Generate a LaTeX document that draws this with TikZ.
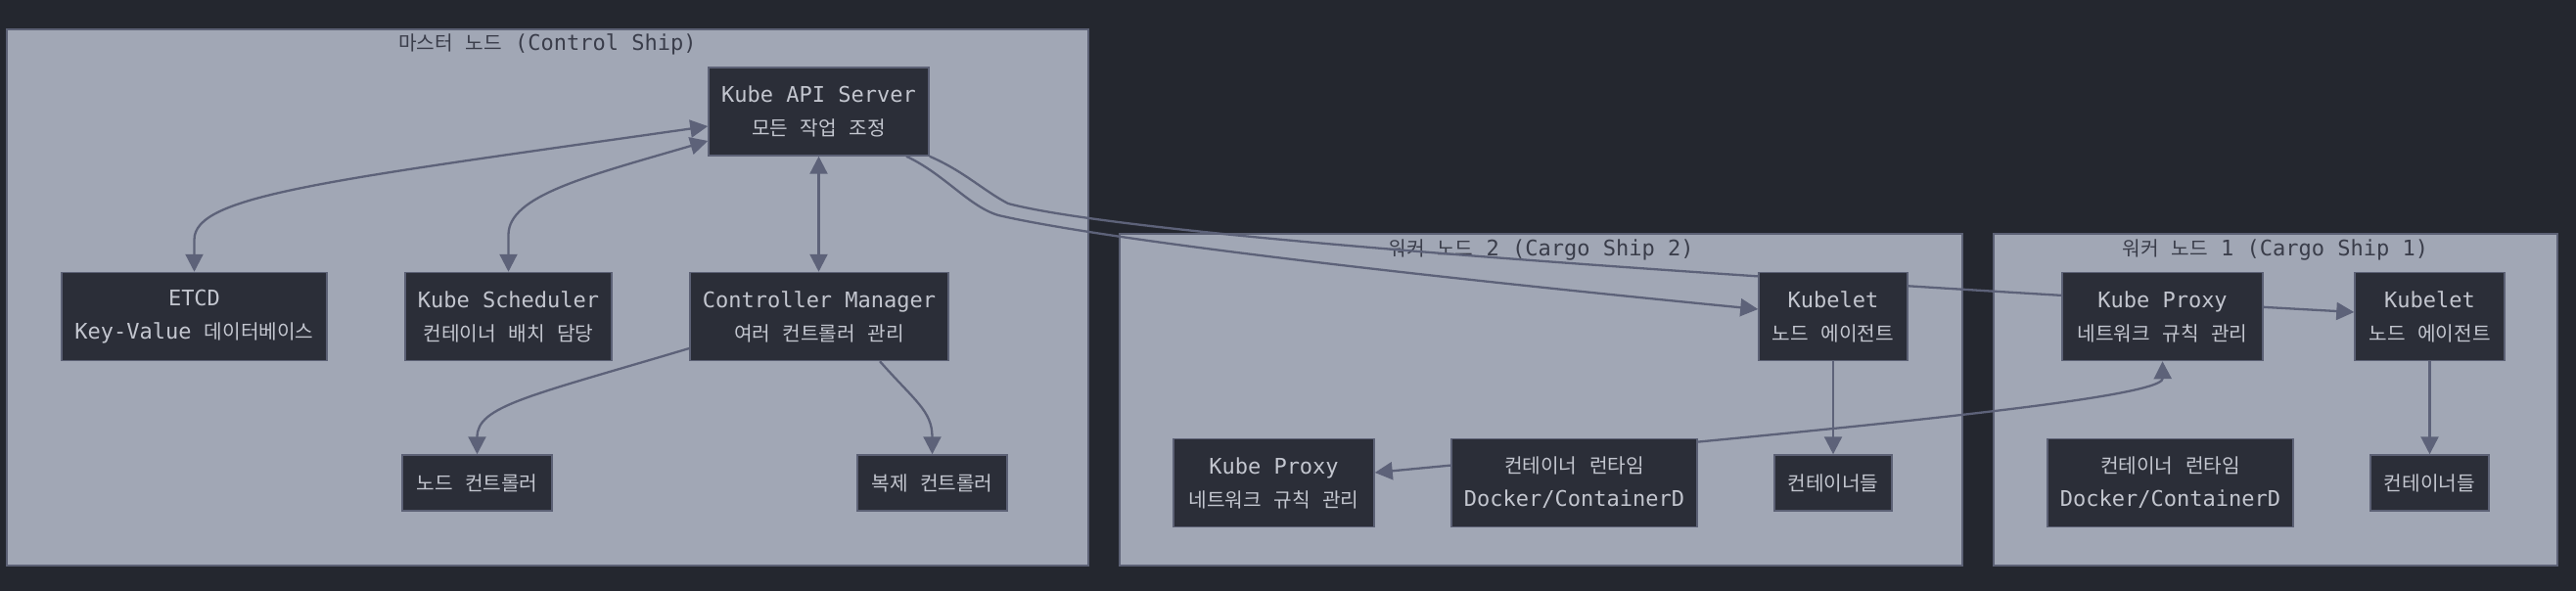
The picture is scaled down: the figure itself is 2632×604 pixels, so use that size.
\documentclass[tikz,border=0pt]{standalone}
\usepackage{fontspec}
\setmonofont{DejaVu Sans Mono}
\newfontfamily\krfont{Noto Sans CJK KR}[Scale=0.92]
\newcommand\kor{\krfont\spaceskip=12.5pt\relax}
\usepackage{tikz}
\usetikzlibrary{arrows.meta}
\definecolor{bgc}{HTML}{24272F}
\definecolor{clusfill}{HTML}{A1A7B5}
\definecolor{clusline}{HTML}{5C6175}
\definecolor{nodefill}{HTML}{2B2E38}
\definecolor{nodetext}{HTML}{C3C6CF}
\definecolor{edgec}{HTML}{5D6279}
\definecolor{titletext}{HTML}{3A3D4A}
\pgfdeclarelayer{back}
\pgfdeclarelayer{wires}
\pgfsetlayers{back,wires,main}

\begin{document}
\begin{tikzpicture}[x=1pt,y=-1pt,
  box/.style = {draw=clusline,line width=1.5pt,fill=nodefill,text=nodetext,
  align=center,inner sep=0pt,minimum height=90pt,
  font=\ttfamily\fontsize{22}{34}\selectfont},
  sbox/.style = {box,minimum height=57pt},
  clus/.style = {draw=clusline,line width=1.5pt,fill=clusfill},
  title/.style = {text=titletext,inner sep=0pt,
  font=\ttfamily\fontsize{22}{26}\selectfont},
  both/.style = {{Triangle[length=18pt,width=18pt]}-{Triangle[length=18pt,width=18pt]}}]
 % master node
 \node[box,minimum width=225pt] (api) at (836.5,114) {Kube API Server\\{\kor 모든 작업 조정}};
 \node[box,minimum width=271pt] (etcd) at (198.5,323.5) {ETCD\\Key-Value {\kor 데이터베이스}};
 \node[box,minimum width=211pt] (sched) at (519.5,323.5) {Kube Scheduler\\{\kor 컨테이너 배치 담당}};
 \node[box,minimum width=264pt] (cm) at (837,323.5) {Controller Manager\\{\kor 여러 컨트롤러 관리}};
 \node[sbox,minimum width=153pt] (nctl) at (487.5,493.5) {{\kor 노드 컨트롤러}};
 \node[sbox,minimum width=153pt] (rctl) at (952.5,493.5) {{\kor 복제 컨트롤러}};
 % worker 2
 \node[box,minimum width=152pt] (klt2) at (1873,323.5) {Kubelet\\{\kor 노드 에이전트}};
 \node[box,minimum width=205pt] (kpx2) at (1301.5,493.5) {Kube Proxy\\{\kor 네트워크 규칙 관리}};
 \node[box,minimum width=251pt] (crt2) at (1608.5,493.5) {{\kor 컨테이너 런타임}\\Docker/ContainerD};
 \node[sbox,minimum width=120pt] (ctr2) at (1873,493.5) {{\kor 컨테이너들}};
 % worker 1
 \node[box,minimum width=205pt] (kpx1) at (2209.5,323.5) {Kube Proxy\\{\kor 네트워크 규칙 관리}};
 \node[box,minimum width=153pt] (klt1) at (2482.5,323.5) {Kubelet\\{\kor 노드 에이전트}};
 \node[box,minimum width=251pt] (crt1) at (2217.5,493.5) {{\kor 컨테이너 런타임}\\Docker/ContainerD};
 \node[sbox,minimum width=121pt] (ctr1) at (2482.5,493.5) {{\kor 컨테이너들}};
 \begin{pgfonlayer}{back}
  \fill[bgc] (0,0) rectangle (2632,604);
  \draw[clus] (7,30) rectangle (1112,578);
  \draw[clus] (1144,239) rectangle (2005,578);
  \draw[clus] (2037,239) rectangle (2613,578);
  \node[title] (tm) at (559.5,45) {{\kor 마스터 노드} (Control Ship)};
  \node[title] (tw2) at (1574.5,255) {{\kor 워커 노드} 2 (Cargo Ship 2)};
  \node[title] (tw1) at (2325,255) {{\kor 워커 노드} 1 (Cargo Ship 1)};
 \end{pgfonlayer}
 \begin{pgfonlayer}{wires}
 \begin{scope}[line width=2.3pt,draw=edgec,-{Triangle[length=18pt,width=18pt]}]
  \draw[both] (etcd.north) -- (198.5,245) .. controls (198.5,200) and (330,185) .. ([yshift=-15pt]api.west);
  \draw[both] (sched.north) -- (519.5,240) .. controls (519.5,200) and (600,180) .. ([yshift=-30pt]api.west);
  \draw[both] (api.south) -- (api.south |- cm.north);
  \draw ([yshift=-32.5pt]cm.west) .. controls (540,405) and (487.5,415) .. (nctl.north);
  \draw ([xshift=62pt]cm.south) .. controls (935,410) and (952.5,420) .. (rctl.north);
  \draw ([xshift=89.5pt]api.south) .. controls (965,178) and (990,211) .. (1020,220)
   .. controls (1150,250) and (1550,292) .. ([yshift=7.5pt]klt2.west);
  \draw (api.south east) .. controls (985,175) and (1005,195) .. (1030,208)
   .. controls (1150,240) and (1700,280) .. ([yshift=4.5pt]klt1.west);
  \draw (klt2.south) -- (ctr2.north);
  \draw (klt1.south) -- (ctr1.north);
  \draw[both] ([yshift=10.5pt]kpx2.east) .. controls (1800,445) and (2210,410) .. (kpx1.south);
 \end{scope}
 \end{pgfonlayer}
\end{tikzpicture}
\end{document}
